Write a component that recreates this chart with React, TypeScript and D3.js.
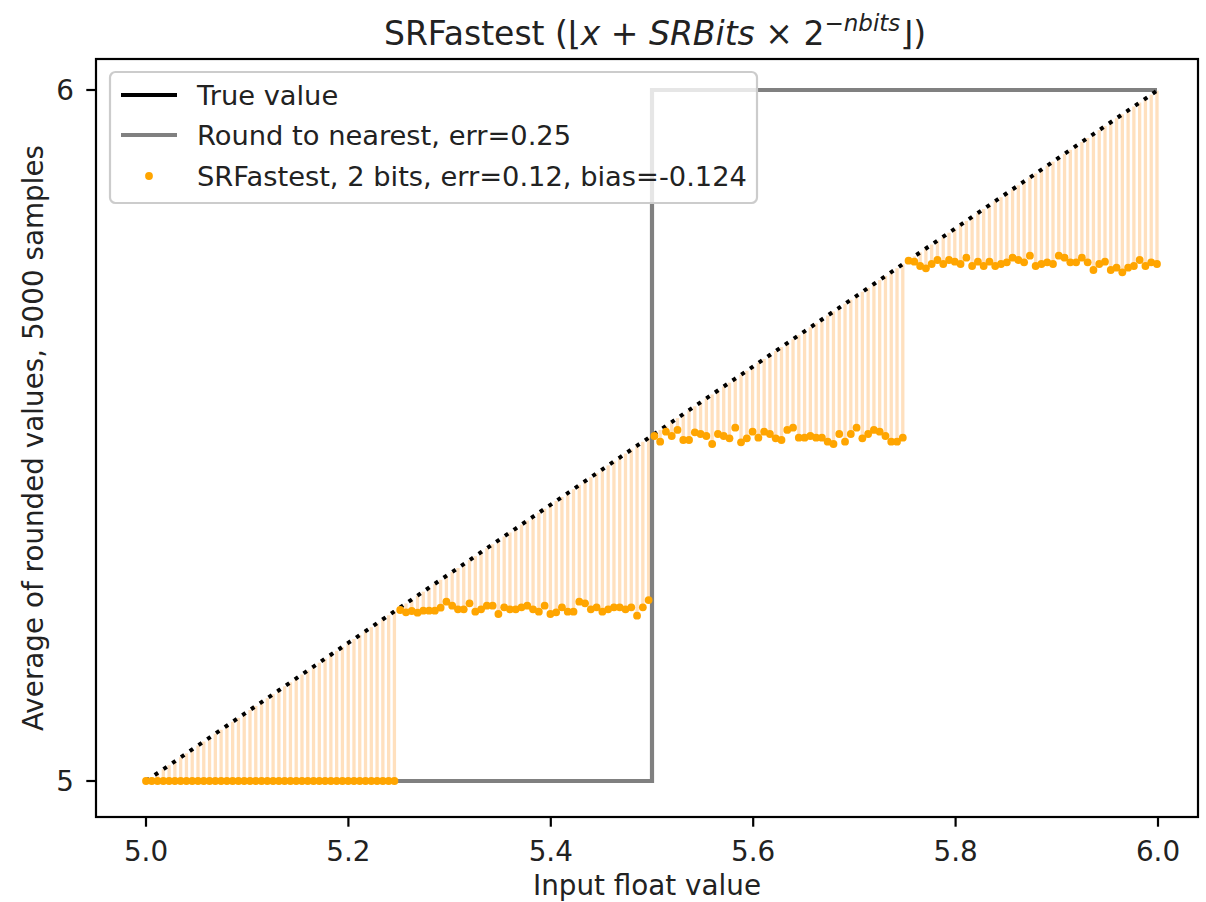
import React from "react";
import * as d3 from "d3";

// ---------- data ----------
const inputStart = 5;
const inputEnd = 5.999;
const sampleCount = 176;
const inputs: number[] = d3.range(sampleCount).map(
  (i) => inputStart + (i * (inputEnd - inputStart)) / (sampleCount - 1)
);

const srStep1: number[] = [
  5, 5, 5, 5, 5, 5, 5, 5, 5, 5, 5, 5, 5, 5, 5, 5, 5, 5, 5, 5, 5, 5,
  5, 5, 5, 5, 5, 5, 5, 5, 5, 5, 5, 5, 5, 5, 5, 5, 5, 5, 5, 5, 5, 5,
];
const srStep2: number[] = [
  5.2475, 5.2441, 5.246, 5.2436, 5.2465, 5.2465, 5.2465, 5.2508, 5.2595, 5.2537, 5.2484,
  5.2484, 5.2571, 5.2451, 5.2484, 5.2537, 5.2537, 5.2417, 5.2513, 5.2484, 5.2484, 5.2513,
  5.2537, 5.2484, 5.2451, 5.2537, 5.2417, 5.2441, 5.2513, 5.2451, 5.2451, 5.2595, 5.2571,
  5.2484, 5.2513, 5.2451, 5.2484, 5.2513, 5.2513, 5.2484, 5.2513, 5.2393, 5.2513, 5.2619,
];
const srStep3: number[] = [
  5.4993, 5.4911, 5.5055, 5.4993, 5.508, 5.4935, 5.4935, 5.5046, 5.5022, 5.4993, 5.4877,
  5.5022, 5.4993, 5.4959, 5.5113, 5.4901, 5.4959, 5.5055, 5.4969, 5.5055, 5.5022, 5.4959,
  5.4935, 5.508, 5.5113, 5.4969, 5.4969, 5.4993, 5.4969, 5.4969, 5.4911, 5.4877, 5.5022,
  5.4911, 5.5022, 5.5113, 5.4959, 5.5022, 5.508, 5.5055, 5.4993, 5.4911, 5.4911, 5.4969,
];
const srStep4: number[] = [
  5.753, 5.7516, 5.7453, 5.7419, 5.7482, 5.754, 5.7482, 5.754, 5.7516, 5.7482, 5.7574,
  5.7453, 5.7516, 5.7453, 5.7516, 5.7453, 5.7482, 5.7506, 5.7574, 5.754, 5.7506, 5.7602,
  5.7453, 5.7482, 5.7506, 5.7482, 5.7602, 5.7574, 5.7506, 5.7506, 5.7574, 5.7506, 5.7395,
  5.7482, 5.7516, 5.7395, 5.7429, 5.7361, 5.7429, 5.7453, 5.754, 5.7453, 5.7506, 5.7482,
];
const srAverages: number[] = [...srStep1, ...srStep2, ...srStep3, ...srStep4];

const roundNearestX: number[] = [5, 5.5, 5.5, 5.999];
const roundNearestY: number[] = [5, 5, 6, 6];

const xTicks: number[] = [5.0, 5.2, 5.4, 5.6, 5.8, 6.0];
const yTicks: number[] = [5, 6];

const legendLabels: string[] = [
  "True value",
  "Round to nearest, err=0.25",
  "SRFastest, 2 bits, err=0.12, bias=-0.124",
];

// ---------- layout ----------
const W = 1206;
const H = 902;
const frame = { left: 96, right: 1198, top: 59, bottom: 817 };
const FONT = "'DejaVu Sans', sans-serif";
const FS = 27.8;
const LW = 4.2;

export default function App() {
  const x = d3.scaleLinear().domain([5, 6]).range([146, 1158]);
  const y = d3.scaleLinear().domain([5, 6]).range([781, 90]);

  const trueLine = d3
    .line<number>()
    .x((d) => x(d))
    .y((d) => y(d));
  const roundLine = d3
    .line<number>()
    .x((_, i) => x(roundNearestX[i]))
    .y((d) => y(d));

  const cx = (frame.left + frame.right) / 2;
  const cy = (frame.top + frame.bottom) / 2;

  const lg = { x: 110, y: 72, w: 647, h: 131 };
  const rowY = [95, 135, 176];

  return (
    <svg
      width={W}
      height={H}
      style={{ position: "absolute", left: 0, top: 0, background: "#fff" }}
      fontFamily={FONT}
    >
      <rect x={0} y={0} width={W} height={H} fill="#fff" />
      <defs>
        <clipPath id="plotclip">
          <rect
            x={frame.left}
            y={frame.top}
            width={frame.right - frame.left}
            height={frame.bottom - frame.top}
          />
        </clipPath>
      </defs>

      <g clipPath="url(#plotclip)">
        {/* stems */}
        {inputs.map((v, i) => (
          <line
            key={"s" + i}
            x1={x(v)}
            x2={x(v)}
            y1={y(srAverages[i])}
            y2={y(v)}
            stroke="#ffe0be"
            strokeWidth={3.3}
          />
        ))}
        {/* round to nearest */}
        <path
          d={roundLine(roundNearestY) || ""}
          fill="none"
          stroke="#808080"
          strokeWidth={LW}
        />
        {/* true value */}
        <path
          d={trueLine(inputs) || ""}
          fill="none"
          stroke="#000"
          strokeWidth={4}
          strokeDasharray="4 6.6"
        />
        {/* SR dots */}
        {inputs.map((v, i) => (
          <circle key={"c" + i} cx={x(v)} cy={y(srAverages[i])} r={3.9} fill="#ffa500" />
        ))}
      </g>

      {/* frame */}
      <rect
        x={frame.left}
        y={frame.top}
        width={frame.right - frame.left}
        height={frame.bottom - frame.top}
        fill="none"
        stroke="#000"
        strokeWidth={2.2}
      />

      {/* x ticks */}
      {xTicks.map((t) => (
        <g key={"xt" + t}>
          <line x1={x(t)} x2={x(t)} y1={frame.bottom} y2={frame.bottom + 9.7} stroke="#000" strokeWidth={2.2} />
          <text x={x(t)} y={frame.bottom + 44} textAnchor="middle" fontSize={FS} fill="#222">
            {t.toFixed(1)}
          </text>
        </g>
      ))}
      {/* y ticks */}
      {yTicks.map((t) => (
        <g key={"yt" + t}>
          <line x1={frame.left - 9.7} x2={frame.left} y1={y(t)} y2={y(t)} stroke="#000" strokeWidth={2.2} />
          <text x={frame.left - 22} y={y(t) + 10} textAnchor="end" fontSize={FS} fill="#222">
            {t}
          </text>
        </g>
      ))}

      {/* axis labels */}
      <text x={cx} y={895} textAnchor="middle" fontSize={FS} fill="#222">
        Input float value
      </text>
      <text
        transform={`translate(43,${cy}) rotate(-90)`}
        textAnchor="middle"
        fontSize={FS}
        fill="#222"
      >
        Average of rounded values, 5000 samples
      </text>

      {/* title */}
      <text x={cx + 8} y={45} textAnchor="middle" fontSize={33} fill="#222">
        SRFastest (⌊<tspan fontStyle="italic">x</tspan>
        {" + "}
        <tspan fontStyle="italic">SRBits</tspan>
        {" × 2"}
        <tspan dy={-14} fontSize={23}>
          −<tspan fontStyle="italic">nbits</tspan>
        </tspan>
        <tspan dy={14}>⌋)</tspan>
      </text>

      {/* legend */}
      <rect
        x={lg.x}
        y={lg.y}
        width={lg.w}
        height={lg.h}
        rx={5.5}
        fill="#fff"
        fillOpacity={0.8}
        stroke="#cccccc"
        strokeWidth={2.2}
      />
      <line x1={121} x2={177} y1={rowY[0]} y2={rowY[0]} stroke="#000" strokeWidth={LW} />
      <line x1={121} x2={177} y1={rowY[1]} y2={rowY[1]} stroke="#808080" strokeWidth={LW} />
      <circle cx={149} cy={rowY[2]} r={3.9} fill="#ffa500" />
      {legendLabels.map((l, i) => (
        <text key={"lg" + i} x={197} y={rowY[i] + 10} fontSize={27.3} fill="#222">
          {l}
        </text>
      ))}
    </svg>
  );
}
